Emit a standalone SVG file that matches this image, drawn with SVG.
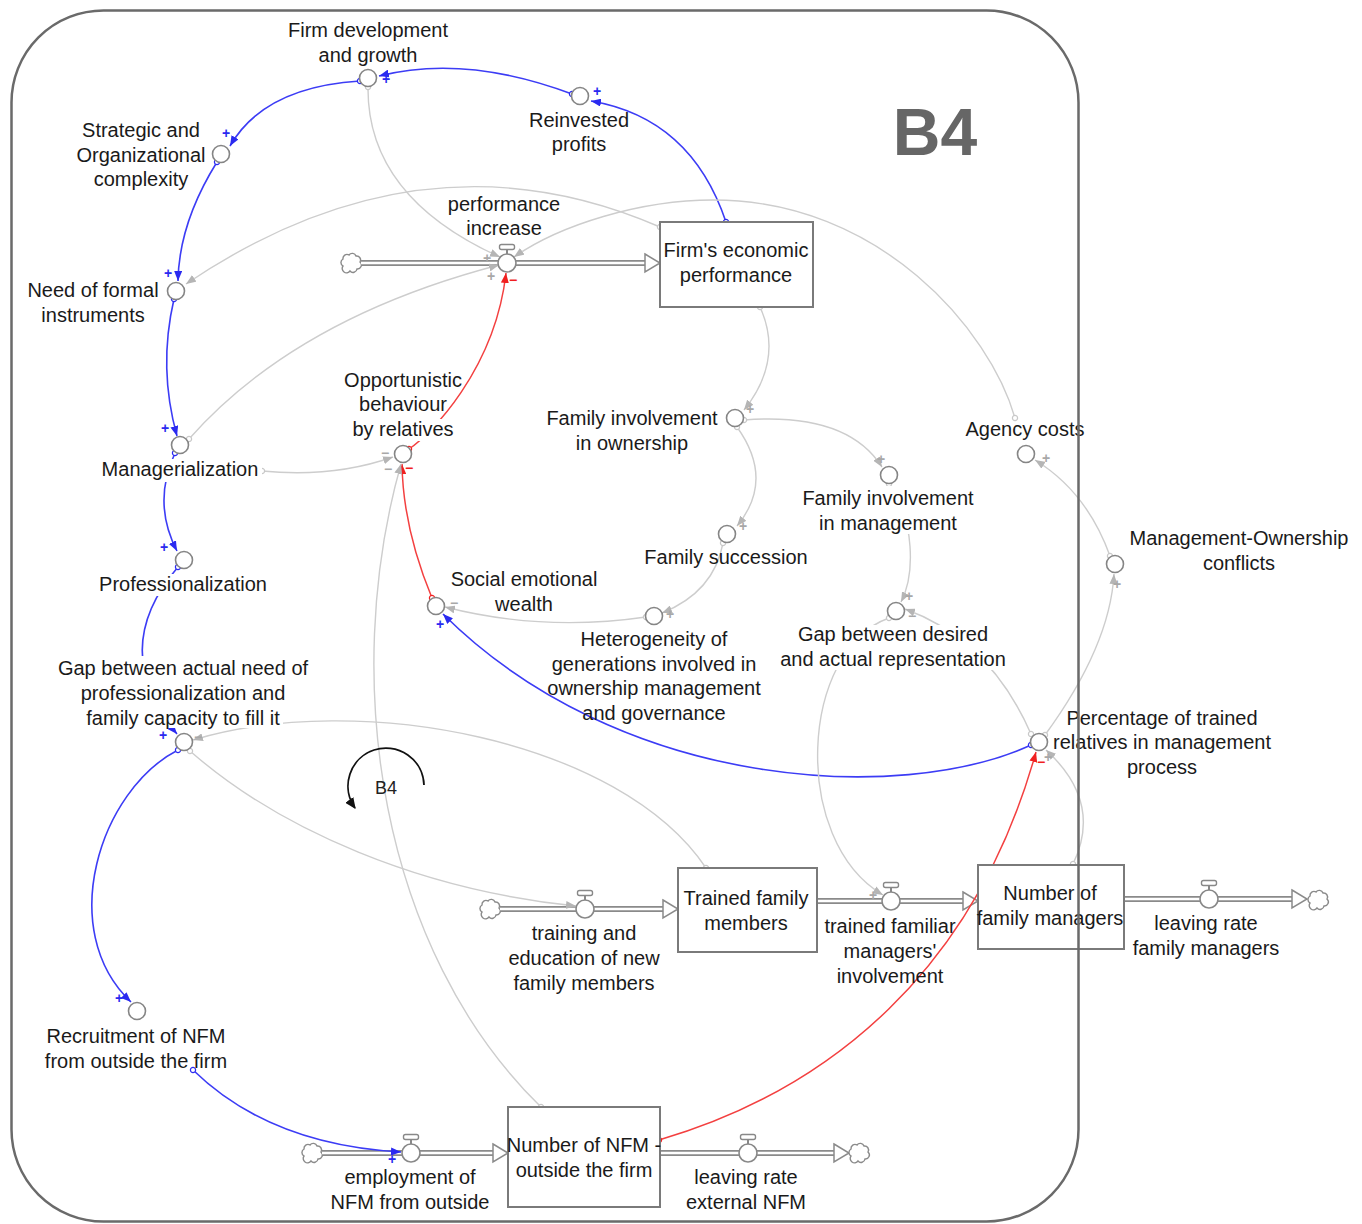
<svg xmlns="http://www.w3.org/2000/svg" width="1362" height="1224" viewBox="0 0 1362 1224">
<defs>
<style>
.t{font-family:"Liberation Sans",Arial,sans-serif;font-size:20px;fill:#1a1a1a;text-anchor:middle}
.nc{fill:#fff;stroke:#858585;stroke-width:1.6}
.box{fill:#fff;stroke:#7a7a7a;stroke-width:2}
.bg{fill:#fff}
.lb{fill:none;stroke:#3c3cf5;stroke-width:1.6;marker-end:url(#ab);marker-start:url(#ob)}
.lr{fill:none;stroke:#f34040;stroke-width:1.5;marker-end:url(#ar);marker-start:url(#or)}
.lg{fill:none;stroke:#cdcdcd;stroke-width:1.4;marker-end:url(#ag);marker-start:url(#og)}
.po{font-family:"Liberation Sans",Arial,sans-serif;font-size:14px;font-weight:bold;text-anchor:middle}
.pb{fill:#2a2af0}.pr{fill:#f02020}.pg{fill:#a8a8a8}
.pipeo{stroke:#8a8a8a;stroke-width:6;fill:none}
.pipei{stroke:#fff;stroke-width:2.4;fill:none}
.tip{fill:#fff;stroke:#8a8a8a;stroke-width:1.5}
.cl{fill:#fff;stroke:#8a8a8a;stroke-width:1.4}
</style>
<marker id="ab" viewBox="0 0 10 8" refX="10" refY="4" markerWidth="10" markerHeight="8" orient="auto" markerUnits="userSpaceOnUse"><path d="M0,0 L10,4 L0,8 z" fill="#2a2af0"/></marker>
<marker id="ar" viewBox="0 0 10 8" refX="10" refY="4" markerWidth="10" markerHeight="8" orient="auto" markerUnits="userSpaceOnUse"><path d="M0,0 L10,4 L0,8 z" fill="#f02020"/></marker>
<marker id="ag" viewBox="0 0 10 8" refX="10" refY="4" markerWidth="10" markerHeight="8" orient="auto" markerUnits="userSpaceOnUse"><path d="M0,0 L10,4 L0,8 z" fill="#b5b5b5"/></marker>
<marker id="ak" viewBox="0 0 10 9" refX="9" refY="4.5" markerWidth="11" markerHeight="10" orient="auto" markerUnits="userSpaceOnUse"><path d="M0,0 L10,4.5 L0,9 z" fill="#111"/></marker>
<marker id="ob" viewBox="-4 -4 8 8" refX="0" refY="0" markerWidth="8" markerHeight="8" markerUnits="userSpaceOnUse"><circle r="2.6" fill="#fff" stroke="#2a2af0" stroke-width="1.2"/></marker>
<marker id="or" viewBox="-4 -4 8 8" refX="0" refY="0" markerWidth="8" markerHeight="8" markerUnits="userSpaceOnUse"><circle r="2.6" fill="#fff" stroke="#f02020" stroke-width="1.2"/></marker>
<marker id="og" viewBox="-4 -4 8 8" refX="0" refY="0" markerWidth="8" markerHeight="8" markerUnits="userSpaceOnUse"><circle r="2.6" fill="#fff" stroke="#c8c8c8" stroke-width="1.2"/></marker>
<g id="valve"><line x1="0" y1="-9" x2="0" y2="-14" stroke="#888" stroke-width="2"/><rect x="-7.5" y="-18.5" width="15" height="5" rx="2" fill="#fff" stroke="#888" stroke-width="1.4"/><circle r="9" fill="#fff" stroke="#888" stroke-width="1.6"/></g>
<path id="cloud" class="cl" d="M-9,3 a4,4 0 0 1 0,-7 a4,4 0 0 1 6,-4 a4,4 0 0 1 7,1 a4,4 0 0 1 4,6 a4,4 0 0 1 -3,7 a4,4 0 0 1 -7,2 a4,4 0 0 1 -7,-5 z"/>
</defs>
<rect width="1362" height="1224" fill="#fff"/>

<g id="flows">
<use href="#cloud" x="352" y="263"/>
<path class="pipeo" d="M361,263 H646"/><path class="pipei" d="M361,263 H646"/>
<path class="tip" d="M645,254 L660,263 L645,272 z"/>
<use href="#cloud" x="491" y="909"/>
<path class="pipeo" d="M500,909 H664"/><path class="pipei" d="M500,909 H664"/>
<path class="tip" d="M663,900 L678,909 L663,918 z"/>
<path class="pipeo" d="M817,901 H964"/><path class="pipei" d="M817,901 H964"/>
<path class="tip" d="M963,892 L978,901 L963,910 z"/>
<path class="pipeo" d="M1124,899 H1293"/><path class="pipei" d="M1124,899 H1293"/>
<path class="tip" d="M1292,890 L1307,899 L1292,908 z"/>
<use href="#cloud" x="1319" y="900"/>
<use href="#cloud" x="313" y="1153"/>
<path class="pipeo" d="M322,1153 H494"/><path class="pipei" d="M322,1153 H494"/>
<path class="tip" d="M493,1144 L508,1153 L493,1162 z"/>
<path class="pipeo" d="M660,1153 H835"/><path class="pipei" d="M660,1153 H835"/>
<path class="tip" d="M834,1144 L849,1153 L834,1162 z"/>
<use href="#cloud" x="860" y="1153"/>
</g>

<g id="connectors">
<path class="lb" d="M572,94 Q465,54 379,76"/>
<path class="lb" d="M726,222 Q691,118 591,101"/>
<path class="lb" d="M360,81 Q264,87 230,146"/>
<path class="lb" d="M217,162 Q179,223 178,281"/>
<path class="lb" d="M174,299 Q158,368 177,436"/>
<path class="lb" d="M175,453 Q152,503 177,551"/>
<path class="lb" d="M178,567 Q107,650 177,734"/>
<path class="lb" d="M178,750 C100,790 55,930 131,1002"/>
<path class="lb" d="M193,1070 Q270,1145 401,1152"/>
<path class="lb" d="M1031,745 C900,805 620,790 443,614"/>
<path class="lr" d="M409,449 C430,435 495,370 506,273"/>
<path class="lr" d="M432,598 Q403,528 402,464"/>
<path class="lr" d="M659,1140 C830,1090 975,970 1036,752"/>
<path class="lg" d="M368,87 Q367,197 500,257"/>
<path class="lg" d="M189,439 Q296,318 499,265"/>
<path class="lg" d="M660,227 Q423,124 186,284"/>
<path class="lg" d="M1015,418 C990,330 880,200 713,200 C640,200 560,225 514,257"/>
<path class="lg" d="M760,307 Q784,360 744,410"/>
<path class="lg" d="M744,420 Q847,412 882,467"/>
<path class="lg" d="M737,427 Q775,480 737,526"/>
<path class="lg" d="M723,543 Q714,592 662,613"/>
<path class="lg" d="M646,617 Q543,632 445,607"/>
<path class="lg" d="M889,484 C915,520 915,575 901,602"/>
<path class="lg" d="M1031,734 Q990,640 905,609"/>
<path class="lg" d="M541,1107 C380,950 340,680 401,464"/>
<path class="lg" d="M262,471 Q333,478 393,457"/>
<path class="lg" d="M889,618 C800,650 790,840 883,895"/>
<path class="lg" d="M1045,735 Q1110,646 1114,574"/>
<path class="lg" d="M1110,556 Q1087,492 1035,460"/>
<path class="lg" d="M1073,864 Q1103,802 1046,750"/>
<path class="lg" d="M190,751 C280,830 420,890 576,906"/>
<path class="lg" d="M706,868 C620,740 360,690 193,740"/>
</g>

<g id="loop-B4">
<path d="M424,785 A38,38 0 1 0 355,808" fill="none" stroke="#111" stroke-width="1.8" marker-end="url(#ak)"/>
<text x="386" y="794" style="font-family:'Liberation Sans',Arial,sans-serif;font-size:18px;fill:#222;text-anchor:middle">B4</text>
</g>

<g id="firm-development">
<circle class="nc" cx="368" cy="78" r="8.5"/>
<text class="t"><tspan x="368" y="37">Firm development</tspan><tspan x="368" y="62">and growth</tspan></text>
</g>
<g id="reinvested-profits">
<circle class="nc" cx="580" cy="96" r="8.5"/>
<text class="t"><tspan x="579" y="127">Reinvested</tspan><tspan x="579" y="151">profits</tspan></text>
</g>
<g id="strategic-complexity">
<circle class="nc" cx="221" cy="154" r="8.5"/>
<text class="t"><tspan x="141" y="137">Strategic and</tspan><tspan x="141" y="162">Organizational</tspan><tspan x="141" y="186">complexity</tspan></text>
</g>
<g id="need-formal-instruments">
<circle class="nc" cx="176" cy="291" r="8.5"/>
<text class="t"><tspan x="93" y="297">Need of formal</tspan><tspan x="93" y="322">instruments</tspan></text>
</g>
<g id="performance-increase">
<use href="#valve" x="507" y="263"/>
<text class="t"><tspan x="504" y="211">performance</tspan><tspan x="504" y="235">increase</tspan></text>
</g>
<g id="firm-economic-performance">
<rect class="box" x="660" y="222" width="153" height="85"/>
<text class="t"><tspan x="736" y="257">Firm's economic</tspan><tspan x="736" y="282">performance</tspan></text>
</g>
<g id="opportunistic-behaviour">
<rect class="bg" x="350" y="419" width="106" height="22"/>
<circle class="nc" cx="403" cy="454" r="8.5"/>
<text class="t"><tspan x="403" y="387">Opportunistic</tspan><tspan x="403" y="411">behaviour</tspan><tspan x="403" y="436">by relatives</tspan></text>
</g>
<g id="managerialization">
<rect class="bg" x="100" y="459" width="162" height="23"/>
<circle class="nc" cx="180" cy="445" r="8.5"/>
<text class="t" x="180" y="476">Managerialization</text>
</g>
<g id="professionalization">
<rect class="bg" x="98" y="574" width="170" height="22"/>
<circle class="nc" cx="184" cy="560" r="8.5"/>
<text class="t" x="183" y="591">Professionalization</text>
</g>
<g id="gap-actual-need">
<rect class="bg" x="57" y="656" width="253" height="50"/>
<rect class="bg" x="85" y="706" width="198" height="22"/>
<circle class="nc" cx="184" cy="742" r="8.5"/>
<text class="t"><tspan x="183" y="675">Gap between actual need of</tspan><tspan x="183" y="700">professionalization and</tspan><tspan x="183" y="725">family capacity to fill it</tspan></text>
</g>
<g id="family-involvement-ownership">
<circle class="nc" cx="735" cy="418" r="8.5"/>
<text class="t"><tspan x="632" y="425">Family involvement</tspan><tspan x="632" y="450">in ownership</tspan></text>
</g>
<g id="family-involvement-management">
<rect class="bg" x="801" y="486" width="175" height="48"/>
<circle class="nc" cx="889" cy="475" r="8.5"/>
<text class="t"><tspan x="888" y="505">Family involvement</tspan><tspan x="888" y="530">in management</tspan></text>
</g>
<g id="family-succession">
<circle class="nc" cx="727" cy="534" r="8.5"/>
<text class="t" x="726" y="564">Family succession</text>
</g>
<g id="social-emotional-wealth">
<circle class="nc" cx="436" cy="606" r="8.5"/>
<text class="t"><tspan x="524" y="586">Social emotional</tspan><tspan x="524" y="611">wealth</tspan></text>
</g>
<g id="heterogeneity-generations">
<circle class="nc" cx="654" cy="616" r="8.5"/>
<text class="t"><tspan x="654" y="646">Heterogeneity of</tspan><tspan x="654" y="671">generations involved in</tspan><tspan x="654" y="695">ownership management</tspan><tspan x="654" y="720">and governance</tspan></text>
</g>
<g id="gap-desired-actual">
<rect class="bg" x="779" y="625" width="228" height="45"/>
<circle class="nc" cx="896" cy="611" r="8.5"/>
<text class="t"><tspan x="893" y="641">Gap between desired</tspan><tspan x="893" y="666">and actual representation</tspan></text>
</g>
<g id="agency-costs">
<circle class="nc" cx="1026" cy="454" r="8.5"/>
<text class="t" x="1025" y="436">Agency costs</text>
</g>
<g id="management-ownership-conflicts">
<circle class="nc" cx="1115" cy="564" r="8.5"/>
<text class="t"><tspan x="1239" y="545">Management-Ownership</tspan><tspan x="1239" y="570">conflicts</tspan></text>
</g>
<g id="percentage-trained-relatives">
<circle class="nc" cx="1039" cy="742" r="8.5"/>
<text class="t"><tspan x="1162" y="725">Percentage of trained</tspan><tspan x="1162" y="749">relatives in management</tspan><tspan x="1162" y="774">process</tspan></text>
</g>
<g id="recruitment-nfm">
<circle class="nc" cx="137" cy="1011" r="8.5"/>
<text class="t"><tspan x="136" y="1043">Recruitment of NFM</tspan><tspan x="136" y="1068">from outside the firm</tspan></text>
</g>
<g id="training-education">
<use href="#valve" x="585" y="909"/>
<text class="t"><tspan x="584" y="940">training and</tspan><tspan x="584" y="965">education of new</tspan><tspan x="584" y="990">family members</tspan></text>
</g>
<g id="trained-family-members">
<rect class="box" x="678" y="868" width="139" height="84"/>
<text class="t"><tspan x="746" y="905">Trained family</tspan><tspan x="746" y="930">members</tspan></text>
</g>
<g id="trained-familiar-managers-involvement">
<use href="#valve" x="891" y="901"/>
<text class="t"><tspan x="890" y="933">trained familiar</tspan><tspan x="890" y="958">managers'</tspan><tspan x="890" y="983">involvement</tspan></text>
</g>
<g id="number-family-managers">
<rect class="box" x="978" y="865" width="146" height="84"/>
<text class="t"><tspan x="1050" y="900">Number of</tspan><tspan x="1050" y="925">family managers</tspan></text>
</g>
<g id="leaving-rate-family-managers">
<use href="#valve" x="1209" y="899"/>
<text class="t"><tspan x="1206" y="930">leaving rate</tspan><tspan x="1206" y="955">family managers</tspan></text>
</g>
<g id="number-nfm">
<rect class="box" x="508" y="1107" width="152" height="100"/>
<text class="t"><tspan x="584" y="1152">Number of NFM -</tspan><tspan x="584" y="1177">outside the firm</tspan></text>
</g>
<g id="employment-nfm">
<use href="#valve" x="411" y="1153"/>
<text class="t"><tspan x="410" y="1184">employment of</tspan><tspan x="410" y="1209">NFM from outside</tspan></text>
</g>
<g id="leaving-rate-external-nfm">
<use href="#valve" x="748" y="1153"/>
<text class="t"><tspan x="746" y="1184">leaving rate</tspan><tspan x="746" y="1209">external NFM</tspan></text>
</g>

<g id="polarities" class="po">
<text class="pb" x="386" y="84">+</text>
<text class="pb" x="597" y="96">+</text>
<text class="pb" x="226" y="138">+</text>
<text class="pb" x="168" y="278">+</text>
<text class="pb" x="165" y="433">+</text>
<text class="pb" x="164" y="552">+</text>
<text class="pb" x="163" y="740">+</text>
<text class="pb" x="119" y="1003">+</text>
<text class="pb" x="392" y="1164">+</text>
<text class="pb" x="440" y="629">+</text>
<text class="pr" x="513" y="285">−</text>
<text class="pr" x="409" y="473">−</text>
<text class="pr" x="1041" y="767">−</text>
<text class="pg" x="487" y="263">+</text>
<text class="pg" x="491" y="281">+</text>
<text class="pg" x="385" y="458">−</text>
<text class="pg" x="388" y="474">−</text>
<text class="pg" x="750" y="414">+</text>
<text class="pg" x="881" y="464">+</text>
<text class="pg" x="743" y="531">+</text>
<text class="pg" x="670" y="619">+</text>
<text class="pg" x="454" y="608">−</text>
<text class="pg" x="909" y="601">+</text>
<text class="pg" x="912" y="621">−</text>
<text class="pg" x="1046" y="463">+</text>
<text class="pg" x="1117" y="589">+</text>
<text class="pg" x="1048" y="762">+</text>
<text class="pg" x="198" y="742">−</text>
<text class="pg" x="873" y="900">+</text>
</g>

<g id="title-B4">
<text x="935" y="155" style="font-family:'Liberation Sans',Arial,sans-serif;font-size:66px;font-weight:bold;fill:#666;text-anchor:middle">B4</text>
</g>
<g id="frame">
<rect x="11.5" y="10.5" width="1067" height="1211" rx="92" ry="92" fill="none" stroke="#6a6a6a" stroke-width="2.5"/>
</g>
</svg>
